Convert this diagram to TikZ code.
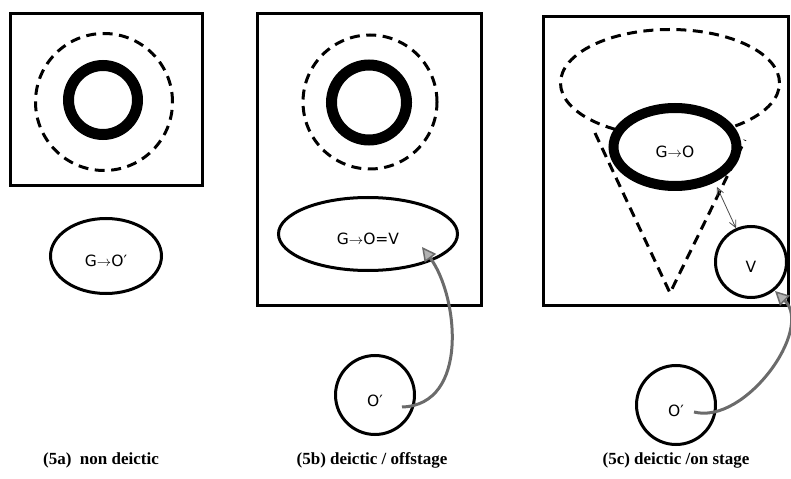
\documentclass[tikz,border=0pt]{standalone}
\usepackage{fontspec}
\setmainfont{Liberation Serif}
\newfontfamily\labelfont{DejaVu Sans}
\usetikzlibrary{arrows.meta,shapes.geometric}

\begin{document}
\begin{tikzpicture}[
		x=1bp, y=-1bp,
		frame/.style={draw, line width=3bp, inner sep=0pt},
		halo/.style={draw, line width=3bp, dash pattern=on 10bp off 6.5bp},
		ring/.style={draw, circle, line width=11bp, inner sep=0pt},
		blob/.style={draw, line width=3bp, inner sep=0pt, fill=white,
			font=\labelfont\fontsize{15.5bp}{15.5bp}\selectfont, text height=22bp, text depth=0pt},
		caption/.style={font=\bfseries\fontsize{17bp}{17bp}\selectfont, inner sep=0pt},
		pointer/.style={draw=black!58, line width=3bp,
			-{Triangle[length=14bp, width=14bp, fill=black!30, line width=1.5bp]}},
		link/.style={draw=black!70, line width=0.8bp,
			{Straight Barb[length=7bp, width=7bp]}-{Straight Barb[length=7bp, width=7bp]}}
	]
		\useasboundingbox (0,0) rectangle (791,479);

		% (5a)
		\node[frame, minimum width=191bp, minimum height=172bp] (stagea) at (106.5,100) {};
		\node[halo, circle, minimum size=137bp, inner sep=0pt] (haloa) at (104,102) {};
		\node[ring, minimum size=69bp] (focusa) at (103,100) {};
		\node[blob, ellipse, minimum width=111bp, minimum height=75bp] (viewa) at (106,256) {G$\rightarrow$O′};
		\node[caption] (capa) at (101,460) {(5a)\ \ non deictic};

		% (5b)
		\node[frame, minimum width=224bp, minimum height=291bp] (stageb) at (369,159.5) {};
		\node[halo, circle, minimum size=134bp, inner sep=0pt] (halob) at (370,102) {};
		\node[ring, minimum size=75bp] (focusb) at (369,102.5) {};
		\node[blob, ellipse, minimum width=179bp, minimum height=73bp] (viewb) at (368,234) {G$\rightarrow$O=V};
		\node[blob, circle, minimum size=79bp] (ob) at (375,395) {O′};
		\node[caption] (capb) at (372,460) {(5b) deictic / offstage};
		\draw[pointer] ([shift={(27,12)}]ob.center) .. controls +(68,-2) and +(36,48) .. ([shift={(54,13)}]viewb.center);

		% (5c)
		\node[frame, minimum width=245bp, minimum height=288bp] (stagec) at (665.5,161) {};
		\node[halo, ellipse, minimum width=219bp, minimum height=107bp, inner sep=0pt] (haloc) at (670,83) {};
		\coordinate (apex) at (670,293);
		\draw[halo] (595,133) -- (apex) -- (745,140);
		\node[blob, ellipse, line width=10bp, minimum width=123bp, minimum height=78bp] (focusc) at (675,147) {G$\rightarrow$O};
		\node[blob, circle, minimum size=71bp] (v) at (751,262) {V};
		\node[blob, circle, minimum size=79bp] (oc) at (676,405) {O′};
		\node[caption] (capc) at (676,460) {(5c) deictic /on stage};
		\draw[link] ([shift={(42,40)}]focusc.center) -- (v.114);
		\draw[pointer] ([shift={(18,7)}]oc.center) .. controls +(51,13) and +(39,38) .. ([shift={(24,29)}]v.center);
	\end{tikzpicture}
\end{document}
